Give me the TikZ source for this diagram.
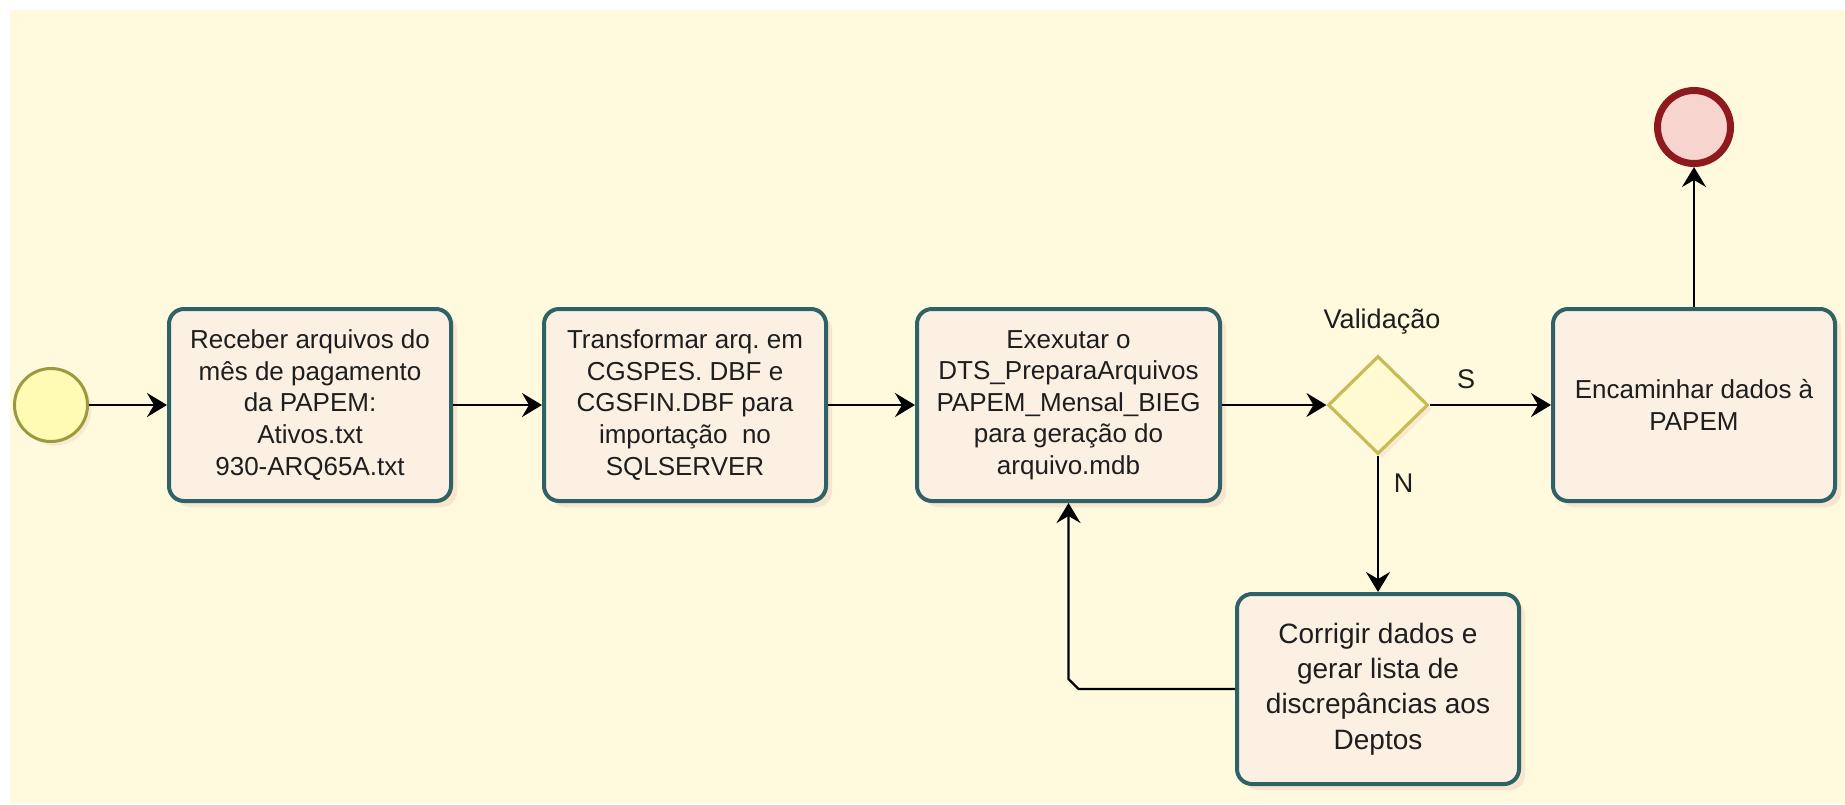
\documentclass[tikz,border=0pt]{standalone}
\usepackage{fontspec}
\setmainfont{Liberation Sans}
\usetikzlibrary{arrows.meta,shapes.geometric,shadows}
\definecolor{bgc}{HTML}{FFF9DE}
\definecolor{taskborder}{HTML}{2F6266}
\definecolor{taskfill}{HTML}{FCF0E3}
\definecolor{shadowc}{HTML}{EFC2AE}
\definecolor{startborder}{HTML}{9A9A3E}
\definecolor{startfill}{HTML}{FFFAB4}
\definecolor{endborder}{HTML}{8E1A1E}
\definecolor{endfill}{HTML}{F8D4CF}
\definecolor{gwborder}{HTML}{C6BC58}
\definecolor{gwfill}{HTML}{FFFAD2}
\definecolor{txtc}{HTML}{1E1E1E}
\frenchspacing
\begin{document}
\begin{tikzpicture}[x=0.5pt,y=-0.5pt,
  txt/.style={font=\fontsize{13}{15.8}\selectfont, text=txtc},
  task/.style={txt, draw=taskborder, line width=2pt, rounded corners=7.5pt,
    fill=taskfill, align=center, minimum height=96pt, inner sep=2pt,
    drop shadow={shadow xshift=3pt, shadow yshift=-3pt, opacity=0.35, fill=shadowc}},
  startev/.style={circle, draw=startborder, line width=1.5pt, fill=startfill,
    minimum size=36.5pt, inner sep=0pt,
    drop shadow={shadow xshift=2pt, shadow yshift=-2pt, opacity=0.3, fill=shadowc}},
  endev/.style={circle, draw=endborder, line width=3.5pt, fill=endfill,
    minimum size=36.5pt, inner sep=0pt},
  gateway/.style={diamond, draw=gwborder, line width=1.6pt, fill=gwfill,
    minimum width=50pt, minimum height=49pt, inner sep=0pt,
    drop shadow={shadow xshift=2pt, shadow yshift=-2pt, opacity=0.3, fill=shadowc}},
  flow/.style={draw=black, line width=1.2pt, -{Stealth[length=10pt,width=12pt,inset=3.5pt]}},
  lbl/.style={txt, font=\fontsize{13.5}{16}\selectfont},
]
\useasboundingbox (0,0) rectangle (1845,804);
\fill[white] (0,0) rectangle (1845,804);
\fill[bgc] (10,10) rectangle (1845,804);

\node[startev] (start) at (51,405) {};
\node[task, minimum width=141pt] (b1) at (310,405)
  {Receber arquivos do\\ mês de pagamento\\ da PAPEM:\\ Ativos.txt\\ 930-ARQ65A.txt};
\node[task, minimum width=141pt] (b2) at (685,405)
  {Transformar arq. em\\ CGSPES. DBF e\\ CGSFIN.DBF para\\ importação\ \ no\\ SQLSERVER};
\node[task, minimum width=151.5pt] (b3) at (1068.5,405)
  {Exexutar o\\ DTS\_PreparaArquivos\\ PAPEM\_Mensal\_BIEG\\ para geração do\\ arquivo.mdb};
\node[gateway] (gw) at (1378,405) {};
\node[lbl] (gwlabel) at (1382,322) {Validação};
\node[task, minimum width=141pt] (b5) at (1694,405)
  {Encaminhar dados à\\ PAPEM};
\node[endev] (end) at (1694,127) {};
\node[task, minimum width=141pt, minimum height=95pt,
  font=\fontsize{14}{17.6}\selectfont] (b4) at (1378,689)
  {Corrigir dados e\\ gerar lista de\\ discrepâncias aos\\ Deptos};

\draw[flow] (start) -- (b1);
\draw[flow] (b1) -- (b2);
\draw[flow] (b2) -- (b3);
\draw[flow] (b3) -- (gw);
\draw[flow] (gw) -- node[lbl, pos=0.3, above=4pt] (lS) {S} (b5);
\draw[flow] (gw) -- node[lbl, pos=0.2, right=4pt] (lN) {N} (b4);
\draw[flow] (b5) -- (end);
\draw[flow] (b4.west) -- ([xshift=5pt]b3.south |- b4.west)
  -- ([yshift=5pt]b3.south |- b4.west) -- (b3.south);
\end{tikzpicture}
\end{document}
